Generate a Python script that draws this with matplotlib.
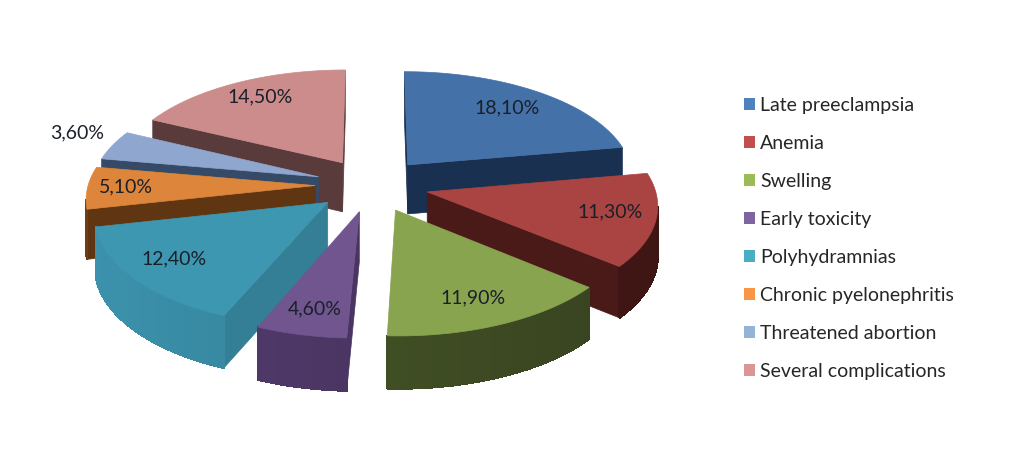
import numpy as np
import matplotlib
matplotlib.use("Agg")
import matplotlib.pyplot as plt
from matplotlib.patches import Patch, Polygon

plt.rcParams['font.family'] = ['Lato', 'DejaVu Sans']

# Data
categories = ["Late preeclampsia", "Anemia", "Swelling", "Early toxicity",
              "Polyhydramnias", "Chronic pyelonephritis", "Threatened abortion",
              "Several complications"]
values = [18.1, 11.3, 11.9, 4.6, 12.4, 5.1, 3.6, 14.5]
value_labels = ["18,10%", "11,30%", "11,90%", "4,60%", "12,40%", "5,10%", "3,60%", "14,50%"]

# Colours
top_colors = ["#4472A8", "#A94442", "#88A44E", "#70558F", "#3E97B0", "#DD853B", "#8FA6CE", "#CC8C8C"]
wall_colors = ["#1A3050", "#4A1A18", "#414F25", "#4A3562", "#347F96", "#603512", "#354A66", "#5A3B3C"]
legend_colors = ["#4F81BD", "#C0504D", "#9BBB59", "#8064A2", "#4BACC6", "#F79646", "#95B3D7", "#D99694"]

# Layout of the pie in pixels
center_x, center_y = 372, 185
radius_x, radius_y = 227, 107
persp = 0.105
depth = 49.5
explode = 0.25
start_angle = 90
label_xy = [(507, 108), (610, 212), (473, 298), (315, 309), (174, 259), (126, 187), (77, 133), (260, 97)]


def project(u, v, z=0.0):
    w = 1 + persp * v
    x = center_x + radius_x * u / w
    y = center_y - radius_y * v / w + z * depth / (1 + 0.05 * v)
    return x, y


def signed_area(pts):
    pts = np.asarray(pts)
    x, y = pts[:, 0], pts[:, 1]
    return 0.5 * np.sum(x * np.roll(y, -1) - np.roll(x, -1) * y)


def shade(color, factor):
    rgb = np.array(matplotlib.colors.to_rgb(color)) * factor
    return tuple(np.clip(rgb, 0, 1))


def draw_slice(ax, a0, a1, top_color, wall_color):
    # a0 > a1, going clockwise, in degrees
    mid = np.radians((a0 + a1) / 2)
    off_u, off_v = explode * np.cos(mid), explode * np.sin(mid)
    angles = np.radians(np.linspace(a0, a1, 40))
    rim_u = off_u + np.cos(angles)
    rim_v = off_v + np.sin(angles)

    top = [project(off_u, off_v)] + [project(u, v) for u, v in zip(rim_u, rim_v)]
    orient = signed_area(top)

    # radial walls, only those turned to the viewer
    for i, j in [(1, 0), (0, len(top) - 1)]:
        ui, vi = (off_u, off_v) if i == 0 else (rim_u[i - 1], rim_v[i - 1])
        uj, vj = (off_u, off_v) if j == 0 else (rim_u[j - 1], rim_v[j - 1])
        quad = [project(ui, vi), project(uj, vj), project(uj, vj, 1), project(ui, vi, 1)]
        if signed_area(quad) * orient > 0:
            ax.add_patch(Polygon(quad, closed=True, fc=wall_color, ec=wall_color, lw=0.5))

    # outer wall in strips, a little lighter to the left
    for k in range(len(rim_u) - 1):
        quad = [project(rim_u[k], rim_v[k]), project(rim_u[k + 1], rim_v[k + 1]),
                project(rim_u[k + 1], rim_v[k + 1], 1), project(rim_u[k], rim_v[k], 1)]
        if signed_area(quad) * orient < 0:
            mid_x = (quad[0][0] + quad[1][0]) / 2
            factor = 1.12 - 0.25 * (mid_x - center_x + radius_x) / (2 * radius_x)
            c = shade(wall_color, factor)
            # no antialiasing here, otherwise the seams between strips show
            ax.add_patch(Polygon(quad, closed=True, fc=c, ec=c, lw=0.8, antialiased=False))

    ax.add_patch(Polygon(top, closed=True, fc=top_color, ec=top_color, lw=0.5))


fig = plt.figure(figsize=(10.09, 4.69), dpi=100)
ax = fig.add_axes([0, 0, 1, 1])
ax.set_xlim(0, 1009)
ax.set_ylim(469, 0)
ax.axis("off")

# slice angles from the values, drawn far to near
fractions = np.array(values) / np.sum(values)
edges = start_angle - 360 * np.concatenate([[0], np.cumsum(fractions)])
mids = (edges[:-1] + edges[1:]) / 2
for i in np.argsort(-np.sin(np.radians(mids))):
    draw_slice(ax, edges[i], edges[i + 1], top_colors[i], wall_colors[i])

for (x, y), txt in zip(label_xy, value_labels):
    ax.text(x, y, txt, ha="center", va="center", fontsize=14, color="#1A1F2A")

handles = [Patch(fc=c, ec="none") for c in legend_colors]
ax.legend(handles, categories, loc="upper left", bbox_to_anchor=(0.7374, 0.7936), frameon=False,
          fontsize=14, labelspacing=1.08, handlelength=0.57, handleheight=0.57, handletextpad=0.26,
          borderpad=0, borderaxespad=0, labelcolor="#262626")

fig.savefig("out.png", dpi=100)
